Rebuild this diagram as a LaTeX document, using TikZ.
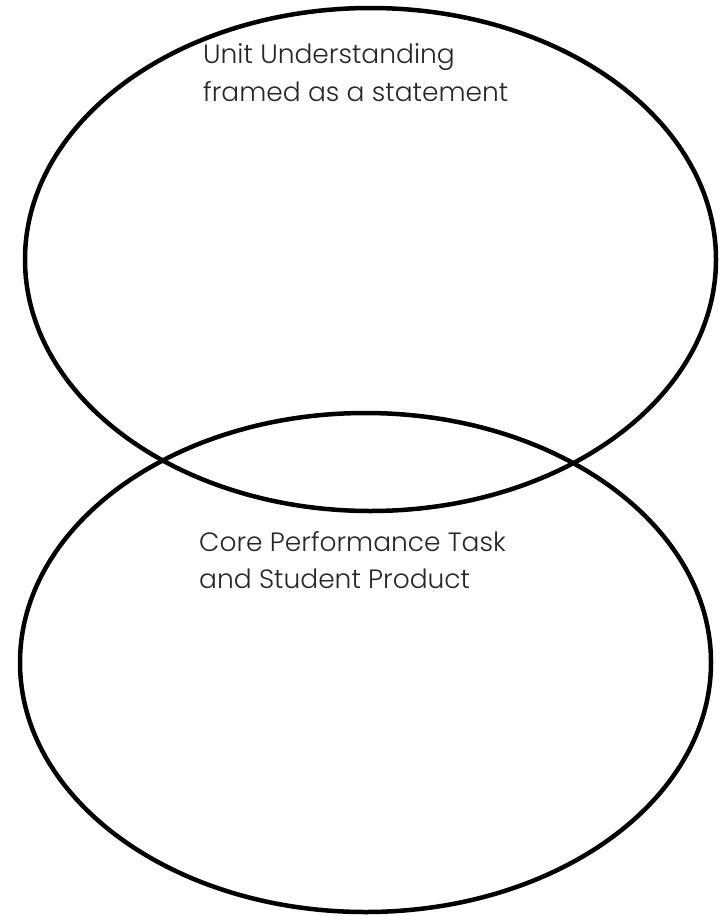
\documentclass[tikz,border=0pt]{standalone}
\usepackage{fontspec}
\setmainfont{Poppins}[UprightFont=* Light]
\begin{document}
\begin{tikzpicture}[x=1pt,y=-1pt,
  ring/.style={draw=black,line width=4.5pt},
  lbl/.style={anchor=base west,inner sep=0pt,font=\fontsize{26.5}{30}\selectfont,text=black!85}]
\useasboundingbox (0,0) rectangle (725,916);
\draw[ring] (370.5,259.5) ellipse [x radius=345.5, y radius=251.5];
\draw[ring] (365.5,662.5) ellipse [x radius=345.5, y radius=249.5];
\node[lbl] (u1) at (203,63) {Unit Understanding};
\node[lbl] (u2) at (203,101) {framed as a statement};
\node[lbl] (c1) at (199,551) {Core Performance Task};
\node[lbl] (c2) at (199,588) {and Student Product};
\end{tikzpicture}
\end{document}
